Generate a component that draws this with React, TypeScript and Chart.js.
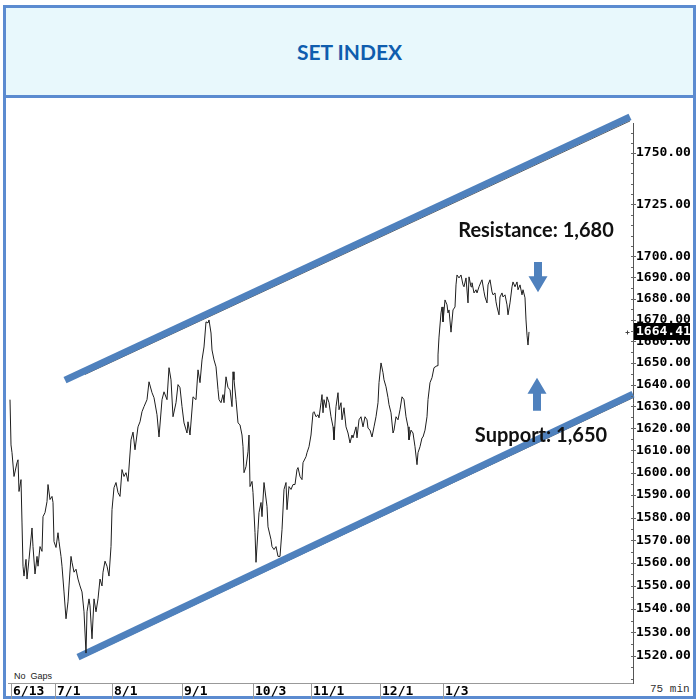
import React, { useEffect, useRef } from 'react';
import { Chart, registerables } from 'chart.js';

Chart.register(...registerables);

// 75-minute bar index (No Gaps) and closing values of the SET index
const bars: number[] = [
  2, 3, 4, 6, 9, 10, 11, 13, 14, 15,
  16, 18, 19, 21, 24, 25, 27, 29, 30, 32,
  34, 35, 37, 39, 40, 42, 44, 45, 46, 48,
  50, 51, 53, 54, 56, 58, 60, 61, 63, 64,
  66, 68, 70, 72, 74, 76, 78, 79, 81, 82,
  84, 86, 88, 90, 92, 94, 95, 97, 99, 101,
  103, 104, 106, 108, 110, 112, 114, 116, 118, 120,
  123, 125, 127,
  130, 132, 134, 136, 139, 141, 144, 146, 149, 151,
  154, 156, 159, 161, 163, 165, 168, 170, 172, 174,
  176, 179, 180, 182, 185, 188, 190, 192, 194, 196,
  198, 200, 201, 203, 204, 206, 208, 210, 211, 213,
  215, 216, 218, 220, 222, 224, 225, 226, 228, 230,
  232, 234, 235, 236, 238, 240, 241, 242, 244, 245,
  247, 248, 250, 251, 253, 254, 256, 259, 260, 263,
  264, 266, 268, 270, 272,
  274, 276, 278, 279, 281, 283, 285, 287, 289, 290,
  292, 294, 295, 298, 299, 301, 303, 305, 306, 308,
  310, 311, 313, 314, 315, 316, 318, 319, 321, 323,
  325, 326, 328, 330, 331, 333, 334, 336, 338, 340,
  342, 344, 345, 348, 349, 351, 353, 355, 357, 359,
  360, 362, 364, 366, 368, 370, 371, 373, 375, 376,
  378, 380, 381, 383, 385, 386, 388, 390, 392, 394,
  396, 398, 400, 401, 403, 405, 407, 409, 410, 412,
  414, 415, 417, 419, 420, 422, 424, 426, 429, 430,
  431, 433, 434, 435, 437, 439, 440, 441, 443, 445,
  447, 448, 449, 451, 453, 455, 456, 458, 460, 461,
  463, 464, 466, 468, 469, 471, 473, 474, 476, 477,
  479, 480, 482, 484, 485, 487, 488, 489, 491, 492,
  494, 495, 497, 499, 500, 502, 504, 505, 507, 509,
  510, 512, 514, 515, 517, 518, 519, 520, 521,
];

const closes: number[] = [
  1633.1, 1612.5, 1609.0, 1598.3, 1604.5, 1605.8, 1591.6, 1596.9, 1577.6, 1558.6,
  1554.3, 1561.6, 1553.0, 1561.6, 1575.4, 1567.2, 1555.2, 1562.9, 1558.6, 1567.2,
  1565.1, 1580.4, 1582.2, 1587.1, 1594.7, 1588.0, 1589.4, 1586.7, 1569.4, 1566.8,
  1573.3, 1569.4, 1562.9, 1558.6, 1547.4, 1535.8, 1543.1, 1550.0, 1562.9, 1560.3,
  1556.0, 1557.3, 1553.0, 1550.0, 1547.4, 1538.8, 1521.1, 1538.8, 1544.4, 1541.4,
  1527.2, 1544.4, 1538.8, 1544.4, 1553.0, 1550.0, 1556.0, 1560.8, 1558.6, 1554.3,
  1567.2, 1583.5, 1593.3, 1595.6, 1591.1, 1589.4, 1601.4, 1598.3, 1600.0, 1596.1,
  1614.8, 1618.3, 1610.3,
  1620.7, 1623.0, 1627.6, 1629.9, 1633.1, 1641.3, 1636.3, 1634.0, 1626.2, 1616.1,
  1633.1, 1636.7, 1633.1, 1647.8, 1642.2, 1625.3, 1631.7, 1640.0, 1638.6, 1629.9,
  1622.5, 1617.9, 1623.0, 1617.0, 1634.4, 1633.1, 1646.8, 1640.9, 1651.4, 1657.4,
  1669.1, 1668.6, 1670.0, 1663.9, 1656.0, 1651.4, 1648.2, 1637.7, 1633.1, 1631.7,
  1635.4, 1631.7, 1643.6, 1638.6, 1637.7, 1629.9, 1645.9, 1642.2, 1633.1, 1622.5,
  1621.6, 1617.0, 1611.7, 1600.0, 1602.7, 1609.4, 1617.0, 1593.8, 1596.1, 1591.1,
  1573.3, 1560.3, 1574.6, 1582.2, 1586.7, 1580.4, 1595.6, 1584.9, 1575.9, 1570.3,
  1567.2, 1565.9, 1567.2, 1562.9, 1562.9,
  1574.6, 1592.5, 1595.6, 1583.5, 1593.8, 1592.5, 1594.7, 1594.7, 1601.4, 1602.3,
  1598.3, 1596.9, 1604.5, 1607.2, 1609.0, 1611.7, 1617.0, 1627.1, 1627.6, 1625.3,
  1626.2, 1624.8, 1631.7, 1635.4, 1627.1, 1633.1, 1629.4, 1634.4, 1631.7, 1625.3,
  1620.7, 1614.8, 1629.9, 1636.3, 1628.5, 1631.7, 1623.9, 1629.4, 1620.7, 1617.9,
  1613.4, 1617.0, 1615.7, 1620.7, 1615.7, 1623.9, 1625.3, 1620.7, 1625.3, 1623.9,
  1620.1, 1619.2, 1616.1, 1620.7, 1625.3, 1631.7, 1640.9, 1650.0, 1645.5, 1642.2,
  1639.0, 1634.0, 1630.8, 1627.1, 1617.9, 1619.2, 1625.3, 1623.9, 1628.5, 1634.4,
  1633.1, 1625.3, 1620.7, 1614.8, 1619.2, 1617.9, 1611.7, 1603.6, 1609.0, 1611.7,
  1615.7, 1616.1, 1619.2, 1625.3, 1633.1, 1640.9, 1643.2, 1647.8, 1648.7, 1653.7,
  1662.0, 1673.3, 1676.1, 1669.1, 1679.4, 1677.1, 1673.3, 1674.7, 1664.3, 1674.7,
  1676.1, 1686.5, 1691.2, 1689.8, 1691.2, 1686.5, 1685.6, 1689.8, 1678.0, 1690.3,
  1685.6, 1687.5, 1682.7, 1684.2, 1682.7, 1685.6, 1687.9, 1688.9, 1683.2, 1680.8,
  1678.0, 1686.5, 1688.9, 1683.2, 1681.8, 1682.7, 1678.5, 1676.1, 1672.4, 1680.8,
  1682.7, 1680.8, 1681.8, 1677.1, 1672.4, 1678.0, 1685.6, 1687.9, 1685.6, 1687.9,
  1684.2, 1686.5, 1681.8, 1684.2, 1680.4, 1670.0, 1662.9, 1658.3, 1664.41,
];

const lastClose = 1664.41;

// date separators on the time axis
const xTickBars = [3, 47, 104, 174, 245, 303, 372, 435];
const xTickLabels = ['6/13', '7/1', '8/1', '9/1', '10/3', '11/1', '12/1', '1/3'];
const xMin = 0;
const xMax = 625;

// price axis (logarithmic)
const yTickValues = [
  1520, 1530, 1540, 1550, 1560, 1570, 1580, 1590, 1600, 1610, 1620, 1630,
  1640, 1650, 1660, 1670, 1680, 1690, 1700, 1725, 1750,
];
const yMinorTicks = [
  1510, 1515, 1525, 1535, 1545, 1555, 1565, 1575, 1585, 1595, 1605, 1615, 1625,
  1635, 1645, 1655, 1665, 1675, 1685, 1695, 1705, 1710, 1715, 1720, 1730, 1735,
  1740, 1745, 1755, 1760,
];
const yMin = 1508.4;
const yMax = 1764.8;

// channel trend lines
const upperTrendBars = [57, 622];
const upperTrendValues = [1642.1, 1767.8];
const lowerTrendBars = [70, 625];
const lowerTrendValues = [1519.4, 1635.6];
const upperGuideBars = [77, 622];
const upperGuideValues = [1644.7, 1765.8];
const lowerGuideBars = [78, 625];
const lowerGuideValues = [1519.8, 1634.0];

// annotations
const resistanceText = 'Resistance: 1,680';
const resistanceTextAt = { bar: 528, value: 1712.2 };
const resistanceArrow = { bar: 530, from: 1697.4, to: 1683.0 };
const supportText = 'Support: 1,650';
const supportTextAt = { bar: 533, value: 1616.6 };
const supportArrow = { bar: 529, from: 1628.0, to: 1643.2 };

const BLUE = '#4F81BD';

function drawArrow(ctx: CanvasRenderingContext2D, cx: number, yBase: number, yTip: number) {
  const dir = yTip > yBase ? 1 : -1;
  const headLen = 16;
  const headHalf = 9.5;
  const shaftHalf = 4;
  const yNeck = yTip - dir * headLen;
  ctx.beginPath();
  ctx.moveTo(cx - shaftHalf, yBase);
  ctx.lineTo(cx + shaftHalf, yBase);
  ctx.lineTo(cx + shaftHalf, yNeck);
  ctx.lineTo(cx + headHalf, yNeck);
  ctx.lineTo(cx, yTip);
  ctx.lineTo(cx - headHalf, yNeck);
  ctx.lineTo(cx - shaftHalf, yNeck);
  ctx.closePath();
  ctx.fillStyle = BLUE;
  ctx.fill();
}

const overlayPlugin = {
  id: 'overlay',
  afterDraw(chart: any) {
    const { ctx, chartArea, scales } = chart;
    const x = scales.x;
    const y = scales.y;
    ctx.save();
    ctx.lineWidth = 1;
    // minor ticks on the price axis
    ctx.strokeStyle = '#666';
    for (const v of yMinorTicks) {
      const py = Math.round(y.getPixelForValue(v)) + 0.5;
      if (py < chartArea.top || py > chartArea.bottom) continue;
      ctx.beginPath();
      ctx.moveTo(chartArea.right - 2, py);
      ctx.lineTo(chartArea.right, py);
      ctx.stroke();
    }
    for (const v of yTickValues) {
      const py = Math.round(y.getPixelForValue(v)) + 0.5;
      ctx.beginPath();
      ctx.moveTo(chartArea.right - 2, py);
      ctx.lineTo(chartArea.right + 3, py);
      ctx.stroke();
    }
    // date separators
    ctx.strokeStyle = '#9a9a9a';
    for (const b of xTickBars) {
      const px = Math.round(x.getPixelForValue(b)) + 0.5;
      ctx.beginPath();
      ctx.moveTo(px, chartArea.bottom);
      ctx.lineTo(px, chart.height);
      ctx.stroke();
    }
    // last price marker
    const ly = y.getPixelForValue(lastClose);
    ctx.fillStyle = '#000';
    ctx.fillRect(chartArea.right + 1, Math.round(ly) - 9, 56, 17);
    ctx.fillStyle = '#fff';
    ctx.font = 'bold 13px "DejaVu Sans Mono"';
    ctx.textAlign = 'left';
    ctx.textBaseline = 'middle';
    ctx.fillText(lastClose.toFixed(2), chartArea.right + 3, Math.round(ly));
    ctx.strokeStyle = '#444';
    ctx.beginPath();
    const cxp = chartArea.right - 5.5;
    const cyp = Math.round(ly) + 0.5;
    ctx.moveTo(cxp - 2, cyp); ctx.lineTo(cxp + 2, cyp);
    ctx.moveTo(cxp, cyp - 2); ctx.lineTo(cxp, cyp + 2);
    ctx.stroke();
    // arrows
    drawArrow(ctx, x.getPixelForValue(resistanceArrow.bar), y.getPixelForValue(resistanceArrow.from), y.getPixelForValue(resistanceArrow.to));
    drawArrow(ctx, x.getPixelForValue(supportArrow.bar), y.getPixelForValue(supportArrow.from), y.getPixelForValue(supportArrow.to));
    // texts
    ctx.fillStyle = '#111';
    ctx.font = 'bold 20px Lato';
    ctx.textAlign = 'center';
    ctx.textBaseline = 'middle';
    ctx.fillText(resistanceText, x.getPixelForValue(resistanceTextAt.bar), y.getPixelForValue(resistanceTextAt.value));
    ctx.fillText(supportText, x.getPixelForValue(supportTextAt.bar), y.getPixelForValue(supportTextAt.value));
    ctx.restore();
  },
};

const toPoints = (xs: number[], ys: number[]) => xs.map((b, i) => ({ x: b, y: ys[i] }));

export default function App() {
  const ref = useRef<HTMLCanvasElement>(null);
  useEffect(() => {
    const canvas = ref.current;
    if (!canvas) return;
    const chart = new Chart(canvas, {
      type: 'line',
      data: {
        datasets: [
          {
            label: 'SET',
            data: toPoints(bars, closes),
            borderColor: '#1e1e1e',
            borderWidth: 1,
            pointRadius: 0,
            tension: 0,
          },
          {
            label: 'upper',
            data: toPoints(upperTrendBars, upperTrendValues),
            borderColor: BLUE,
            borderWidth: 7,
            borderCapStyle: 'butt',
            pointRadius: 0,
            clip: false,
          },
          {
            label: 'lower',
            data: toPoints(lowerTrendBars, lowerTrendValues),
            borderColor: BLUE,
            borderWidth: 7,
            borderCapStyle: 'butt',
            pointRadius: 0,
            clip: false,
          },
          {
            label: 'upperGuide',
            data: toPoints(upperGuideBars, upperGuideValues),
            borderColor: '#555',
            borderWidth: 1,
            pointRadius: 0,
            clip: false,
          },
          {
            label: 'lowerGuide',
            data: toPoints(lowerGuideBars, lowerGuideValues),
            borderColor: '#555',
            borderWidth: 1,
            pointRadius: 0,
            clip: false,
          },
        ] as any,
      },
      options: {
        animation: false,
        responsive: false,
        maintainAspectRatio: false,
        devicePixelRatio: 1,
        layout: { padding: { left: 8, top: 123, right: 6, bottom: 0 } },
        plugins: { legend: { display: false }, tooltip: { enabled: false } },
        scales: {
          x: {
            type: 'linear',
            position: 'bottom',
            min: xMin,
            max: xMax,
            afterBuildTicks: (s: any) => {
              s.ticks = xTickBars.map((v) => ({ value: v }));
            },
            afterFit: (s: any) => {
              s.height = 16;
            },
            ticks: {
              autoSkip: false,
              maxRotation: 0,
              align: 'start',
              labelOffset: 2,
              padding: 1,
              color: '#000',
              font: { family: '"DejaVu Sans Mono"', size: 13, weight: 'bold' },
              callback: (_v: any, i: number) => xTickLabels[i],
            },
            grid: { drawOnChartArea: false, drawTicks: false },
            border: { display: true, color: '#999' },
          },
          y: {
            type: 'logarithmic',
            position: 'right',
            min: yMin,
            max: yMax,
            afterBuildTicks: (s: any) => {
              s.ticks = yTickValues.map((v) => ({ value: v }));
            },
            afterFit: (s: any) => {
              s.width = 57;
            },
            ticks: {
              autoSkip: false,
              padding: 3,
              color: '#000',
              font: { family: '"DejaVu Sans Mono"', size: 13, weight: 'bold' },
              callback: (v: any) => Number(v).toFixed(2),
            },
            grid: { drawOnChartArea: false, drawTicks: false },
            border: { display: true, color: '#555' },
          },
        },
      } as any,
      plugins: [overlayPlugin],
    });
    return () => chart.destroy();
  }, []);

  return (
    <div style={{ position: 'fixed', left: 0, top: 0, width: 696, height: 699, background: '#fff', overflow: 'hidden' }}>
      <div
        style={{
          position: 'absolute', left: 3, top: 5, width: 693, height: 93, boxSizing: 'border-box',
          border: '3px solid #5B8BD0', background: '#E8F8FC', display: 'flex', alignItems: 'center',
          justifyContent: 'center', fontFamily: 'Lato, sans-serif', fontWeight: 700, fontSize: 21, color: '#0F5DAE',
        }}
      >
        SET INDEX
      </div>
      <div
        style={{
          position: 'absolute', left: 3, top: 95, width: 693, height: 604, boxSizing: 'border-box',
          border: '3px solid #5B8BD0',
        }}
      />
      <div style={{ position: 'absolute', left: 14, top: 671, fontFamily: '"Liberation Sans", Arial', fontSize: 9, color: '#222', whiteSpace: 'pre' }}>
        No  Gaps
      </div>
      <div style={{ position: 'absolute', left: 650, top: 683, fontFamily: '"Liberation Mono", monospace', fontSize: 11, color: '#333', whiteSpace: 'pre' }}>
        75 min
      </div>
      <canvas ref={ref} width={696} height={699} style={{ position: 'absolute', left: 0, top: 0, width: 696, height: 699 }} />
    </div>
  );
}
